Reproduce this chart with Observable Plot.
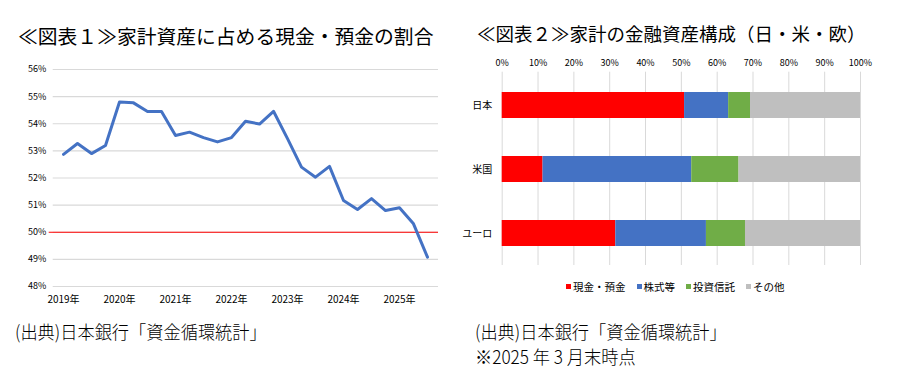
<!DOCTYPE html>
<html><head><meta charset="utf-8">
<script src="https://cdn.jsdelivr.net/npm/d3@7"></script>
<script src="https://cdn.jsdelivr.net/npm/@observablehq/plot@0.6"></script>
<style>
body{margin:0;background:#fff;}
#root{position:relative;width:898px;height:378px;overflow:hidden;font-family:"Noto Sans CJK JP",sans-serif;color:#000;background:#fff;}
.abs{position:absolute;white-space:nowrap;line-height:1;}
.foot{font-weight:300;transform:scaleX(0.93);transform-origin:0 0;}
.lg-swatches{font-family:"Noto Sans CJK JP",sans-serif !important;font-size:10.5px !important;min-height:0 !important;margin:0 !important;}
.lg-swatch{margin-right:11px !important;}
.lg-swatch > svg{margin-right:2px !important;}
</style></head><body><div id="root"></div>
<script>
// ---- Chart 1 data ----
const quarters = ["2019Q1","2019Q2","2019Q3","2019Q4","2020Q1","2020Q2","2020Q3","2020Q4",
  "2021Q1","2021Q2","2021Q3","2021Q4","2022Q1","2022Q2","2022Q3","2022Q4",
  "2023Q1","2023Q2","2023Q3","2023Q4","2024Q1","2024Q2","2024Q3","2024Q4",
  "2025Q1","2025Q2","2025Q3"];
const cashShare = [52.87,53.27,52.90,53.20,54.80,54.77,54.45,54.45,
  53.57,53.69,53.49,53.33,53.49,54.09,53.99,54.46,
  53.45,52.40,52.03,52.43,51.17,50.84,51.24,50.80,
  50.90,50.31,49.08];
const yearTicks = ["2019Q1","2020Q1","2021Q1","2022Q1","2023Q1","2024Q1","2025Q1"];
const yearLabels = ["2019年","2020年","2021年","2022年","2023年","2024年","2025年"];
const yTicks = [48,49,50,51,52,53,54,55,56];
const threshold = 50;

// ---- Chart 2 data ----
const regions = ["日本","米国","ユーロ"];
const kinds = ["現金・預金","株式等","投資信託","その他"];
const kindColors = ["#ff0000","#4472c4","#70ad47","#bfbfbf"];
const cash = [50.9,11.4,31.7];
const stocks = [12.3,41.5,25.3];
const funds = [6.1,13.2,10.9];
const other = [30.7,33.9,32.1];
const pctTicks = [0,10,20,30,40,50,60,70,80,90,100];

const FONT = '"Noto Sans CJK JP", sans-serif';
const root = document.getElementById("root");
function addText(txt, left, top, size, cls){
  const d = document.createElement("div");
  d.className = "abs" + (cls ? " " + cls : "");
  d.textContent = txt;
  d.style.left = left+"px"; d.style.top = top+"px"; d.style.fontSize = size+"px";
  root.appendChild(d);
  return d;
}

// Titles
addText("≪図表１≫家計資産に占める現金・預金の割合", 18, 26, 19.8);
addText("≪図表２≫家計の金融資産構成（日・米・欧）", 477, 24, 18.5);

// Left chart
const lineData = quarters.map((q,i)=>({q, v: cashShare[i]}));
const left = Plot.plot({
  width: 450, height: 260,
  marginLeft: 52.7, marginRight: 12, marginTop: 19, marginBottom: 24,
  style: {fontFamily: FONT, fontSize: "9px", color: "#000", background: "transparent", overflow: "visible"},
  x: {type: "point", domain: quarters, padding: 0.16, label: null},
  y: {domain: [48,56], label: null},
  marks: [
    Plot.gridY(yTicks, {stroke: "#d9d9d9", strokeOpacity: 1, strokeWidth: 1.2}),
    Plot.axisY(yTicks, {tickSize: 0, tickPadding: 7, tickFormat: d => d + "%", fontSize: 9, label: null}),
    Plot.axisX(yearTicks, {tickSize: 0, tickPadding: 9, tickFormat: d => yearLabels[yearTicks.indexOf(d)], fontSize: 10, label: null}),
    Plot.ruleY([threshold], {stroke: "#ff0000", strokeWidth: 1.2, insetLeft: -4}),
    Plot.line(lineData, {x: "q", y: "v", stroke: "#4472c4", strokeWidth: 3, strokeLinejoin: "round", strokeLinecap: "round"})
  ]
});
left.style.position = "absolute"; left.style.left = "0px"; left.style.top = "50px";
root.appendChild(left);

// Right chart
const barData = [];
regions.forEach((r,i)=>{
  barData.push({region: r, kind: kinds[0], value: cash[i]});
  barData.push({region: r, kind: kinds[1], value: stocks[i]});
  barData.push({region: r, kind: kinds[2], value: funds[i]});
  barData.push({region: r, kind: kinds[3], value: other[i]});
});
const right = Plot.plot({
  width: 438, height: 230,
  marginLeft: 41.7, marginRight: 38, marginTop: 26.7, marginBottom: 10,
  style: {fontFamily: FONT, fontSize: "9px", color: "#000", background: "transparent", overflow: "visible"},
  x: {domain: [0,100], label: null},
  y: {domain: regions, paddingInner: 0.6, paddingOuter: 0.3, label: null},
  color: {domain: kinds, range: kindColors},
  marks: [
    Plot.gridX(pctTicks, {stroke: "#d9d9d9", strokeOpacity: 1, strokeWidth: 1}),
    Plot.axisX(pctTicks, {anchor: "top", tickSize: 0, tickPadding: 6, tickFormat: d => d + "%", fontSize: 9, label: null}),
    Plot.axisY({tickSize: 0, tickPadding: 10, fontSize: 10, label: null}),
    Plot.barX(barData, Plot.stackX({x: "value", y: "region", fill: "kind", order: kinds}))
  ]
});
right.style.position = "absolute"; right.style.left = "460px"; right.style.top = "45px";
root.appendChild(right);

// Legend
const lg = Plot.legend({color: {domain: kinds, range: kindColors}, legend: "swatches", swatchSize: 5, className: "lg"});
lg.style.position = "absolute"; lg.style.left = "566px"; lg.style.top = "279px";
root.appendChild(lg);

// Footnotes
addText("(出典)日本銀行「資金循環統計」", 15, 322, 18.5, "foot");
addText("(出典)日本銀行「資金循環統計」", 475, 322, 18.5, "foot");
addText("※2025 年 3 月末時点", 475, 347, 18.5, "foot");
</script>
</body></html>
